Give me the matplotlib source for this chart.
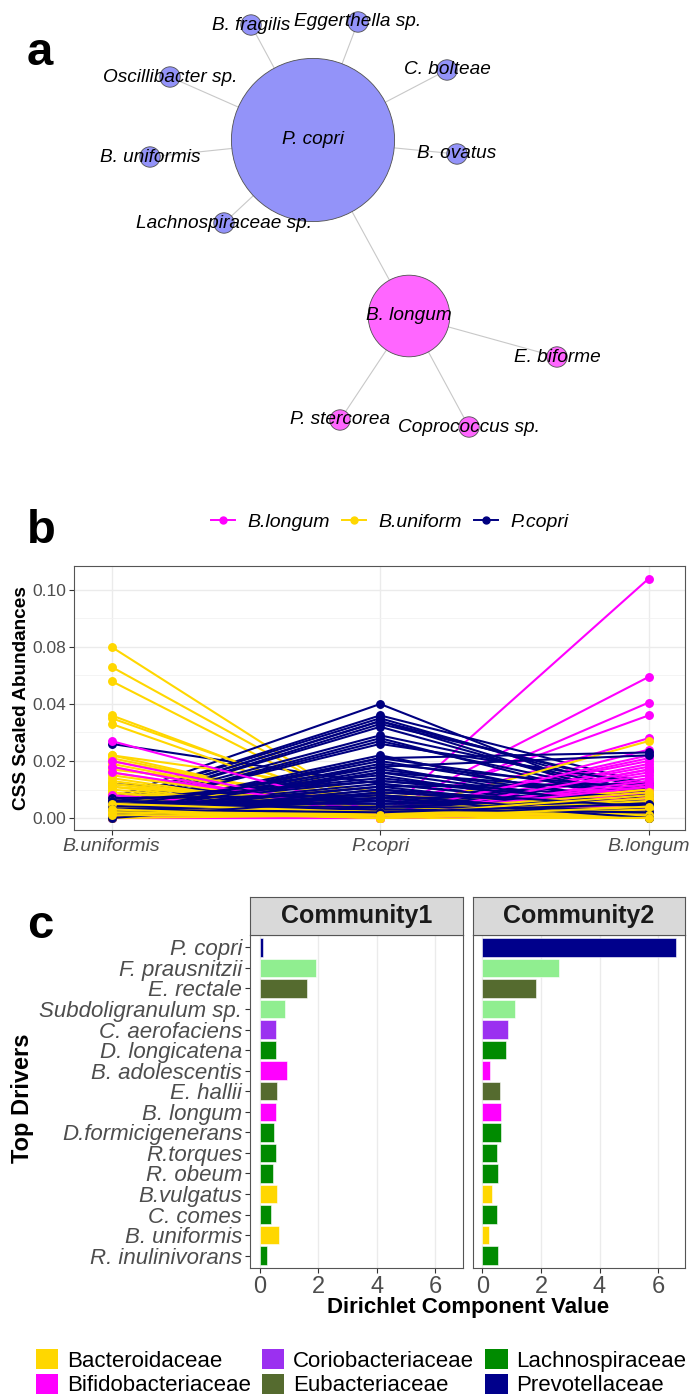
import numpy as np
import matplotlib.pyplot as plt
from matplotlib.patches import Circle, Patch
from matplotlib.lines import Line2D
from matplotlib.ticker import FixedLocator

plt.rcParams['font.family'] = ['Liberation Sans', 'DejaVu Sans']

W, H = 690, 1397


def box(x0, y0, x1, y1):
    # pixel box (top-left origin) -> figure fraction rect
    return [x0 / W, 1 - y1 / H, (x1 - x0) / W, (y1 - y0) / H]


# ---------------- data ----------------
# a: co-occurrence network
node_names = ['P. copri', 'B. fragilis', 'Eggerthella sp.', 'C. bolteae', 'B. ovatus',
              'B. uniformis', 'Oscillibacter sp.', 'Lachnospiraceae sp.',
              'B. longum', 'E. biforme', 'P. stercorea', 'Coprococcus sp.']
node_group = ['copri'] * 8 + ['longum'] * 4
edges = [('P. copri', 'B. fragilis'), ('P. copri', 'Eggerthella sp.'),
         ('P. copri', 'C. bolteae'), ('P. copri', 'B. ovatus'),
         ('P. copri', 'B. uniformis'), ('P. copri', 'Oscillibacter sp.'),
         ('P. copri', 'Lachnospiraceae sp.'), ('P. copri', 'B. longum'),
         ('B. longum', 'E. biforme'), ('B. longum', 'P. stercorea'),
         ('B. longum', 'Coprococcus sp.')]

# b: CSS scaled abundances per sample at (B.uniformis, P.copri, B.longum)
b_taxa = ['B.uniformis', 'P.copri', 'B.longum']
b_groups = ['B.longum', 'B.uniform', 'P.copri']
uniform_uni = [0.080, 0.066, 0.056, 0.036, 0.035, 0.033, 0.022, 0.022, 0.021, 0.020,
               0.019, 0.018, 0.017, 0.016, 0.015, 0.014, 0.013, 0.012, 0.012, 0.011,
               0.011, 0.010, 0.009, 0.008, 0.007, 0.006, 0.005, 0.004, 0.003, 0.002,
               0.006, 0.004, 0.003, 0.002, 0.001, 0.005, 0.002, 0.001, 0.003, 0.000,
               0.004, 0.002, 0.001, 0.003, 0.000, 0.002, 0.005, 0.001, 0.003, 0.002]
uniform_cop = [0.000, 0.001, 0.000, 0.001, 0.002, 0.000, 0.009, 0.001, 0.002, 0.003,
               0.001, 0.000, 0.007, 0.001, 0.002, 0.000, 0.001, 0.003, 0.001, 0.000,
               0.004, 0.001, 0.002, 0.008, 0.001, 0.000, 0.002, 0.001, 0.000, 0.003,
               0.001, 0.000, 0.002, 0.001, 0.000, 0.001, 0.003, 0.000, 0.001, 0.002,
               0.000, 0.001, 0.002, 0.000, 0.001, 0.000, 0.002, 0.001, 0.000, 0.001]
uniform_lon = [0.006, 0.003, 0.008, 0.004, 0.010, 0.002, 0.005, 0.012, 0.003, 0.007,
               0.001, 0.009, 0.004, 0.027, 0.002, 0.006, 0.011, 0.003, 0.008, 0.000,
               0.005, 0.002, 0.010, 0.004, 0.001, 0.007, 0.003, 0.006, 0.002, 0.005,
               0.001, 0.003, 0.000, 0.004, 0.002, 0.001, 0.000, 0.003, 0.005, 0.002,
               0.007, 0.004, 0.009, 0.002, 0.006, 0.003, 0.001, 0.008, 0.004, 0.000]
copri_uni = [0.026, 0.012, 0.007, 0.006, 0.006, 0.005, 0.005, 0.004, 0.004, 0.004,
             0.003, 0.003, 0.003, 0.002, 0.002, 0.002, 0.001, 0.001, 0.001, 0.000,
             0.006, 0.005, 0.004, 0.003, 0.002, 0.001, 0.000, 0.007, 0.003, 0.002,
             0.005, 0.001, 0.004, 0.002, 0.006, 0.003, 0.001, 0.005, 0.000, 0.004,
             0.003, 0.006, 0.002, 0.004, 0.001, 0.005, 0.000, 0.003]
copri_cop = [0.012, 0.006, 0.040, 0.036, 0.035, 0.034, 0.034, 0.033, 0.032, 0.029,
             0.028, 0.027, 0.026, 0.022, 0.021, 0.020, 0.019, 0.018, 0.017, 0.016,
             0.015, 0.014, 0.013, 0.012, 0.011, 0.010, 0.009, 0.008, 0.007, 0.006,
             0.005, 0.021, 0.018, 0.016, 0.013, 0.011, 0.009, 0.007, 0.004, 0.003,
             0.006, 0.005, 0.008, 0.004, 0.010, 0.003, 0.007, 0.002]
copri_lon = [0.004, 0.002, 0.003, 0.012, 0.008, 0.010, 0.005, 0.011, 0.006, 0.009,
             0.004, 0.007, 0.012, 0.003, 0.008, 0.005, 0.010, 0.002, 0.006, 0.009,
             0.001, 0.004, 0.007, 0.003, 0.012, 0.000, 0.005, 0.002, 0.008, 0.001,
             0.006, 0.023, 0.022, 0.003, 0.005, 0.001, 0.004, 0.002, 0.006, 0.003,
             0.002, 0.005, 0.001, 0.003, 0.004, 0.002, 0.000, 0.005]
longum_uni = [0.002, 0.001, 0.003, 0.000, 0.004, 0.002, 0.001, 0.005, 0.003, 0.000,
              0.002, 0.006, 0.001, 0.004, 0.003, 0.000, 0.002, 0.001, 0.007, 0.003,
              0.027, 0.020, 0.018, 0.016, 0.008, 0.005, 0.002, 0.001, 0.000, 0.003,
              0.001, 0.000, 0.002, 0.001, 0.000, 0.004, 0.001, 0.000, 0.002, 0.001]
longum_cop = [0.000, 0.001, 0.000, 0.002, 0.001, 0.000, 0.001, 0.002, 0.000, 0.001,
              0.000, 0.001, 0.002, 0.000, 0.001, 0.000, 0.002, 0.001, 0.000, 0.001,
              0.002, 0.001, 0.000, 0.002, 0.001, 0.000, 0.001, 0.000, 0.002, 0.001,
              0.000, 0.001, 0.000, 0.002, 0.001, 0.000, 0.001, 0.000, 0.001, 0.000]
longum_lon = [0.104, 0.059, 0.041, 0.036, 0.028, 0.024, 0.021, 0.020, 0.019, 0.018,
              0.017, 0.016, 0.015, 0.014, 0.013, 0.012, 0.011, 0.010, 0.009, 0.008,
              0.010, 0.006, 0.007, 0.005, 0.004, 0.003, 0.012, 0.002, 0.001, 0.022,
              0.017, 0.013, 0.009, 0.006, 0.004, 0.002, 0.011, 0.007, 0.005, 0.003]
b_yticks = [0.0, 0.02, 0.04, 0.08, 0.10]
b_yticklabels = ['0.00', '0.02', '0.04', '0.08', '0.10']

# c: Dirichlet components
drivers = ['P. copri', 'F. prausnitzii', 'E. rectale', 'Subdoligranulum sp.',
           'C. aerofaciens', 'D. longicatena', 'B. adolescentis', 'E. hallii',
           'B. longum', 'D.formicigenerans', 'R.torques', 'R. obeum', 'B.vulgatus',
           'C. comes', 'B. uniformis', 'R. inulinivorans']
driver_family = ['Prevotellaceae', 'Ruminococcaceae', 'Eubacteriaceae', 'Ruminococcaceae',
                 'Coriobacteriaceae', 'Lachnospiraceae', 'Bifidobacteriaceae',
                 'Eubacteriaceae', 'Bifidobacteriaceae', 'Lachnospiraceae',
                 'Lachnospiraceae', 'Lachnospiraceae', 'Bacteroidaceae',
                 'Lachnospiraceae', 'Bacteroidaceae', 'Lachnospiraceae']
community1 = [0.12, 1.93, 1.63, 0.87, 0.56, 0.56, 0.92, 0.59, 0.56, 0.48, 0.55, 0.44,
              0.59, 0.38, 0.65, 0.25]
community2 = [6.61, 2.63, 1.82, 1.10, 0.86, 0.79, 0.27, 0.60, 0.62, 0.62, 0.51, 0.54,
              0.34, 0.50, 0.24, 0.54]
legend_families = ['Bacteroidaceae', 'Bifidobacteriaceae', 'Coriobacteriaceae',
                   'Eubacteriaceae', 'Lachnospiraceae', 'Prevotellaceae']

# ---------------- styles ----------------
node_colors = {'copri': '#9393F9', 'longum': '#FF66FF'}
b_colors = {'B.longum': '#FF00FF', 'B.uniform': '#FFD700', 'P.copri': '#000080'}
fam_colors = {'Bacteroidaceae': '#FFD700', 'Bifidobacteriaceae': '#FF00FF',
              'Coriobacteriaceae': '#9B30F0', 'Eubacteriaceae': '#556B2F',
              'Lachnospiraceae': '#008B00', 'Prevotellaceae': '#00008B',
              'Ruminococcaceae': '#90EE90'}
layout = {'P. copri': (313, 140), 'B. fragilis': (251, 25), 'Eggerthella sp.': (358, 22),
          'C. bolteae': (447, 70), 'B. ovatus': (457, 154), 'B. uniformis': (150, 157),
          'Oscillibacter sp.': (170, 77), 'Lachnospiraceae sp.': (224, 223),
          'B. longum': (409, 316), 'E. biforme': (557, 357), 'P. stercorea': (340, 420),
          'Coprococcus sp.': (469, 427)}
GRAY = '#4D4D4D'

fig = plt.figure(figsize=(W / 100, H / 100), dpi=100)

# ---------------- panel a ----------------
axa = fig.add_axes(box(0, 0, W, 460))
axa.set_xlim(0, W)
axa.set_ylim(460, 0)
axa.axis('off')
degree = {n: 0 for n in node_names}
for s, t in edges:
    degree[s] += 1
    degree[t] += 1
    axa.plot([layout[s][0], layout[t][0]], [layout[s][1], layout[t][1]],
             color='#C8C8C8', lw=0.8, zorder=1)
for n, g in zip(node_names, node_group):
    axa.add_patch(Circle(layout[n], 10.2 * degree[n], facecolor=node_colors[g],
                         edgecolor='#505050', lw=0.6, zorder=2))
for n in node_names:
    axa.text(layout[n][0], layout[n][1], n, ha='center', va='center',
             style='italic', fontsize=13.7, zorder=3)

# ---------------- panel b ----------------
fwd_v = [-0.1, 0.0, 0.02, 0.04, 0.08, 0.10, 0.2]
fwd_u = [-5, 0, 1, 2, 3, 4, 9]


def fwd(v):
    return np.interp(v, fwd_v, fwd_u)


def inv(u):
    return np.interp(u, fwd_u, fwd_v)


axb = fig.add_axes(box(74, 566, 685, 830))
axb.set_yscale('function', functions=(fwd, inv))
series = [(uniform_uni, uniform_cop, uniform_lon, 'B.uniform'),
          (copri_uni, copri_cop, copri_lon, 'P.copri'),
          (longum_uni, longum_cop, longum_lon, 'B.longum')]
nmax = max(len(s[0]) for s in series)
for i in range(nmax):
    for u, c, l, g in series:
        if i < len(u):
            axb.plot([0, 1, 2], [u[i], c[i], l[i]], color=b_colors[g], lw=1.5,
                     marker='o', ms=5.4, zorder=3)
axb.set_xlim(-0.14, 2.135)
axb.set_ylim(-0.0042, 0.1084)
axb.set_xticks([0, 1, 2])
axb.set_xticklabels(b_taxa, style='italic', fontsize=14, color=GRAY)
axb.set_yticks(b_yticks)
axb.set_yticklabels(b_yticklabels, fontsize=12.5, color=GRAY)
axb.yaxis.set_minor_locator(FixedLocator([0.01, 0.03, 0.06, 0.09]))
axb.tick_params(which='minor', length=0)
axb.tick_params(which='major', length=3.5, color='#333333', pad=2)
axb.grid(which='major', color='#EBEBEB', lw=1.0)
axb.grid(which='minor', axis='y', color='#F2F2F2', lw=0.6)
axb.set_axisbelow(True)
for sp in axb.spines.values():
    sp.set_color('#555555')
    sp.set_linewidth(0.8)
handles = [Line2D([], [], color=b_colors[g], lw=1.4, marker='o', ms=5) for g in b_groups]
fig.legend(handles, b_groups, loc='center', bbox_to_anchor=(390 / W, 1 - 522 / H),
           ncol=3, frameon=False, prop={'style': 'italic', 'size': 14},
           handlelength=1.2, handletextpad=0.65, columnspacing=0.65)
fig.text(22 / W, 1 - 698 / H, 'CSS Scaled Abundances', rotation=90, ha='center',
         va='center', fontsize=13.7, fontweight='bold')

# ---------------- panel c ----------------
ypos = np.arange(len(drivers))
bar_cols = [fam_colors[f] for f in driver_family]
for k, (vals, title, x0, x1) in enumerate([(community1, 'Community1', 250, 462.7),
                                           (community2, 'Community2', 472.7, 685.4)]):
    ax = fig.add_axes(box(x0, 935, x1, 1268))
    ax.barh(ypos, vals, height=0.9, color=bar_cols, edgecolor='white', lw=0.4, zorder=3)
    ax.set_ylim(len(drivers) - 0.4, -0.6)
    ax.set_xlim(-0.33, 6.93)
    ax.set_xticks([0, 2, 4, 6])
    ax.tick_params(axis='x', labelsize=17, labelcolor=GRAY, length=3.5, color='#333333', pad=2)
    ax.grid(axis='x', color='#EBEBEB', lw=1.0)
    ax.set_axisbelow(True)
    if k == 0:
        ax.set_yticks(ypos)
        ax.set_yticklabels(drivers, style='italic', fontsize=16, color=GRAY)
        ax.tick_params(axis='y', length=3.5, color='#333333', pad=2)
    else:
        ax.set_yticks([])
    for sp in ax.spines.values():
        sp.set_color('#555555')
        sp.set_linewidth(0.8)
    st = fig.add_axes(box(x0, 897, x1, 935))
    st.set_facecolor('#D9D9D9')
    st.set_xticks([])
    st.set_yticks([])
    for sp in st.spines.values():
        sp.set_color('#555555')
        sp.set_linewidth(0.8)
    st.text(0.5, 0.5, title, ha='center', va='center', fontsize=18, fontweight='bold',
            color='#1A1A1A', transform=st.transAxes)

fig.text(22 / W, 1 - 1098 / H, 'Top Drivers', rotation=90, ha='center', va='center',
         fontsize=17, fontweight='bold')
fig.text(468 / W, 1 - 1308 / H, 'Dirichlet Component Value', ha='center', va='center',
         fontsize=16, fontweight='bold')

fam_handles = [Patch(facecolor=fam_colors[f], edgecolor='none') for f in legend_families]
fig.legend(fam_handles, legend_families, loc='upper left',
           bbox_to_anchor=(36 / W, 1 - 1349 / H), ncol=3, frameon=False, fontsize=16,
           handlelength=1.0, handleheight=1.0, handletextpad=0.4, labelspacing=0.1,
           columnspacing=0.5, borderpad=0, borderaxespad=0)

# panel letters
for letter, (lx, ly) in {'a': (27, 65), 'b': (27, 543), 'c': (27, 938)}.items():
    fig.text(lx / W, 1 - ly / H, letter, ha='left', va='baseline', fontsize=34,
             fontweight='bold')

fig.savefig('out.png', dpi=100)
